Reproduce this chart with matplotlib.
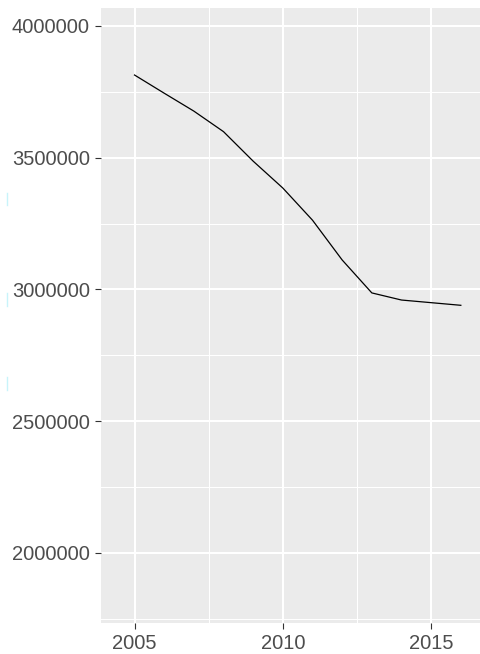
import numpy as np
import matplotlib
matplotlib.use("Agg")
import matplotlib.pyplot as plt
from matplotlib.lines import Line2D

# данные
years = [2005, 2006, 2007, 2008, 2009, 2010, 2011, 2012, 2013, 2014, 2015, 2016]
values = [3814000, 3745000, 3677000, 3599000, 3487000, 3385000,
          3263000, 3112000, 2987000, 2960000, 2950000, 2940000]

x_ticks = [2005, 2010, 2015]
y_ticks = [2000000, 2500000, 3000000, 3500000, 4000000]

plt.rcParams["font.family"] = ["Liberation Sans", "DejaVu Sans"]

W, H = 481, 654
fig = plt.figure(figsize=(W / 100, H / 100), dpi=100)
ax = fig.add_axes([101 / W, (H - 623) / H, 1 - 101 / W, (623 - 8) / H])

ax.set_facecolor("#EBEBEB")
for s in ax.spines.values():
    s.set_visible(False)

ax.plot(years, values, color="black", lw=0.9)

ax.set_xlim(2003.87, 2016.68)
ax.set_ylim(1734300, 4068300)
ax.set_xticks(x_ticks)
ax.set_xticklabels([str(t) for t in x_ticks])
ax.set_yticks(y_ticks)
ax.set_yticklabels([str(t) for t in y_ticks])
ax.set_xticks([2007.5, 2012.5], minor=True)
ax.set_yticks([1750000, 2250000, 2750000, 3250000, 3750000], minor=True)

ax.grid(which="major", color="white", lw=1.5)
ax.grid(which="minor", color="white", lw=0.75)
ax.set_axisbelow(True)

ax.tick_params(which="major", length=4, width=0.8, color="#333333",
               labelcolor="#4D4D4D", labelsize=14.5, pad=4)
ax.tick_params(which="minor", length=0)

# маленькие голубые артефакты слева
for y0, y1 in [(193, 205), (293, 306), (377, 390)]:
    fig.add_artist(Line2D([7.5 / W, 7.5 / W], [1 - y0 / H, 1 - y1 / H],
                          color="#C8F4FA", lw=1))

fig.savefig("out.png", dpi=100)
